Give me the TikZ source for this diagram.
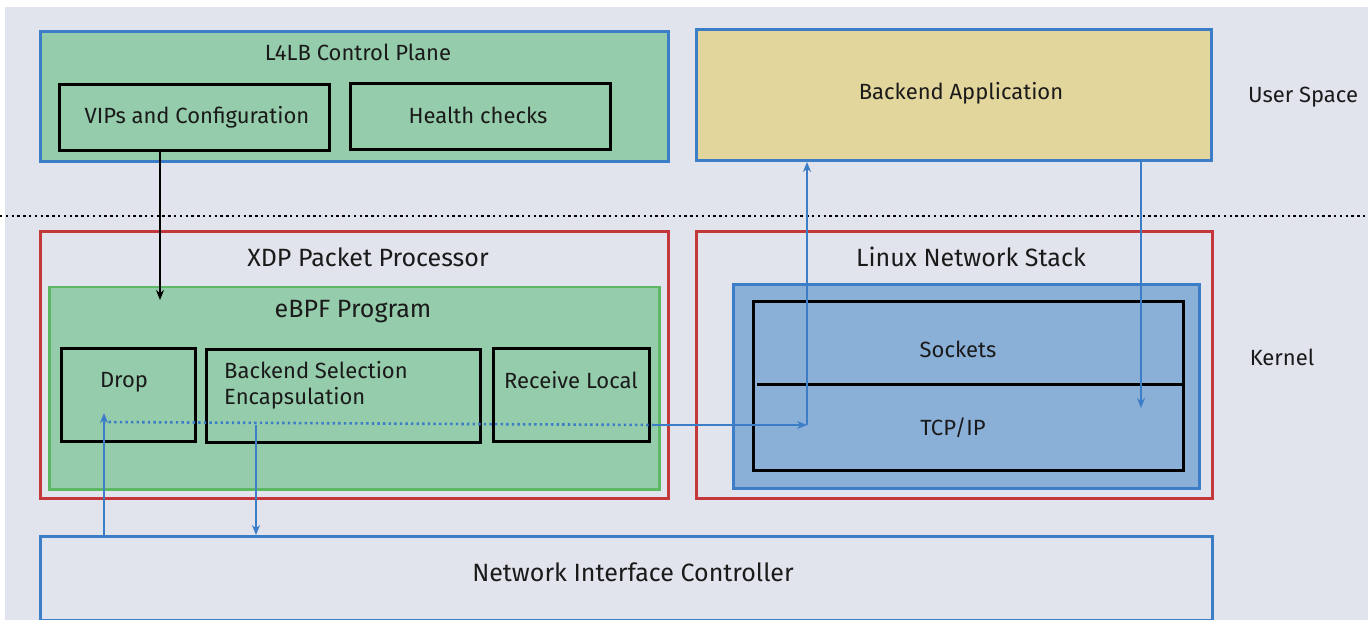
\documentclass[tikz,border=0pt]{standalone}
\usepackage{fontspec}
\setmainfont{Fira Sans}
\usetikzlibrary{arrows.meta}
\definecolor{bgc}{HTML}{E1E4EC}
\definecolor{gfill}{HTML}{95CCAB}
\definecolor{bline}{HTML}{3C7DC8}
\definecolor{yfill}{HTML}{E3D69D}
\definecolor{rline}{HTML}{C5383A}
\definecolor{gline}{HTML}{5DB863}
\definecolor{ifill}{HTML}{8AB0D8}
\definecolor{tcol}{HTML}{1A1A1A}
\tikzset{
  box/.style={anchor=north west, inner sep=0pt, line width=3pt},
  cpbox/.style={box, draw=bline, fill=gfill},
  appbox/.style={box, draw=bline, fill=yfill},
  redbox/.style={box, draw=rline},
  ebpfbox/.style={box, draw=gline, fill=gfill, line width=2.5pt},
  innerblue/.style={box, draw=bline, fill=ifill},
  blkbox/.style={box, draw=black, line width=3pt},
  nicbox/.style={box, draw=bline, fill=bgc},
  lbl/.style={font=\fontsize{22}{26}\selectfont, text=tcol, inner sep=0pt},
  hdr/.style={font=\fontsize{25}{29}\selectfont, text=tcol, inner sep=0pt},
  flow/.style={draw=bline, line width=2.5pt, -{Stealth[length=10pt,width=8pt]}},
  blkflow/.style={draw=black, line width=2.5pt, -{Stealth[length=10pt,width=8pt]}},
}
\begin{document}
\begin{tikzpicture}[x=1pt,y=-1pt]
\useasboundingbox (0,0) rectangle (1368,620);
\fill[white] (0,0) rectangle (1368,620);
\fill[bgc] (5,7) rectangle (1368,620);

% separator
\coordinate (sepL) at (0,216);
\coordinate (sepR) at (1368,216);
\draw[black, line width=2.6pt, dash pattern=on 2.4pt off 3.4pt] (sepL) -- (sepR);

% user space
\node[cpbox, minimum width=628pt, minimum height=130pt] (cp) at (39,30) {};
\node[lbl] (cpl) at (358,52) {L4LB Control Plane};
\node[blkbox, minimum width=270pt, minimum height=66pt] (vips) at (58,83) {};
\node[lbl] (vipsl) at (197,117) {VIPs and Configuration};
\node[blkbox, minimum width=260pt, minimum height=66pt] (hc) at (349,82) {};
\node[lbl] (hcl) at (478,115) {Health checks};

\node[appbox, minimum width=515pt, minimum height=131pt] (app) at (695,28) {};
\node[lbl] (appl) at (961,93) {Backend Application};

\node[lbl] (us) at (1303,97) {User Space};
\node[lbl] (kn) at (1282,357) {Kernel};

% XDP
\node[redbox, minimum width=628pt, minimum height=267pt] (xdp) at (39,230) {};
\node[hdr] (xdpl) at (368,257) {XDP Packet Processor};
\node[ebpfbox, minimum width=610pt, minimum height=202pt] (ebpf) at (48,286) {};
\node[hdr] (ebpfl) at (353,312) {eBPF Program};
\node[blkbox, minimum width=134pt, minimum height=93pt] (drop) at (60,347) {};
\node[lbl] (dropl) at (124,382) {Drop};
\node[blkbox, minimum width=274pt, minimum height=93pt] (bse) at (205,348) {};
\node[lbl, anchor=west, align=left] (bsel) at (224,385) {Backend Selection\\[0pt]Encapsulation};
\node[blkbox, minimum width=156pt, minimum height=93pt] (rl) at (492,347) {};
\node[lbl] (rll) at (571,380) {Receive Local};

% Linux stack
\node[redbox, minimum width=516pt, minimum height=267pt] (lns) at (695,230) {};
\node[hdr] (lnsl) at (971,257) {Linux Network Stack};
\node[innerblue, minimum width=466pt, minimum height=204pt] (ib) at (732,283) {};
\node[blkbox, minimum width=430pt, minimum height=169pt] (stk) at (752,300) {};
\coordinate (divL) at (757,384);
\draw[black, line width=3pt] (divL) -- (divL -| stk.east);
\node[lbl] (sock) at (958,349) {Sockets};
\node[lbl] (tcp) at (953,428) {TCP/IP};

% NIC
\node[nicbox, minimum width=1172pt, minimum height=84pt] (nic) at (39,535) {};
\node[hdr] (nicl) at (633,572) {Network Interface Controller};

% connectors
\coordinate (a1) at (160,300);
\draw[blkflow] (a1 |- vips.south) -- (a1);

\coordinate (d1) at (104,413);
\draw[flow] (d1 |- nic.north) -- (d1);
\coordinate (ds) at (103,422);
\coordinate (de) at (653,425);
\draw[bline, line width=2.6pt, dash pattern=on 2.4pt off 3.2pt] (ds) -- (de);
\coordinate (tcpin) at (807,425);
\draw[flow] (de) -- (tcpin);
\draw[flow] (tcpin) -- (tcpin |- app.south);
\coordinate (down1) at (1141,408);
\draw[flow] (down1 |- app.south) -- (down1);
\coordinate (encs) at (256,425);
\draw[flow] (encs) -- (encs |- nic.north);
\end{tikzpicture}
\end{document}
